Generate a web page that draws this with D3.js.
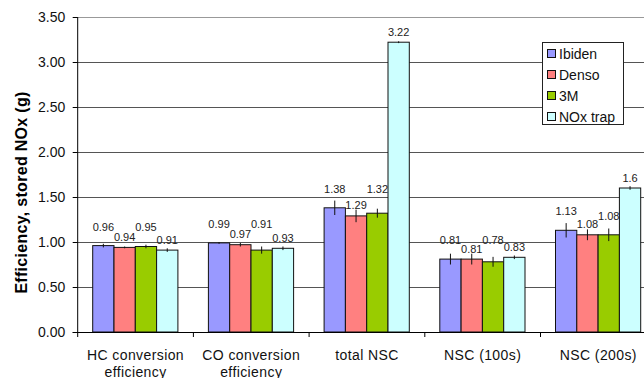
<!DOCTYPE html>
<html><head><meta charset="utf-8">
<script src="https://cdn.jsdelivr.net/npm/d3@7"></script>
<style>html,body{margin:0;padding:0;background:#fff;overflow:hidden}</style>
</head><body><svg id="c" width="644" height="378"></svg>
<script>
const categories = ["HC conversion\nefficiency", "CO conversion\nefficiency", "total NSC", "NSC (100s)", "NSC (200s)"];
const seriesNames = ["Ibiden", "Denso", "3M", "NOx trap"];
const ibiden = [0.96, 0.99, 1.38, 0.81, 1.13];
const denso  = [0.94, 0.97, 1.29, 0.81, 1.08];
const m3     = [0.95, 0.91, 1.32, 0.78, 1.08];
const noxTrap= [0.91, 0.93, 3.22, 0.83, 1.6];
const ibidenErr = [0.02, 0.01, 0.08, 0.06, 0.08];
const densoErr  = [0.01, 0.02, 0.07, 0.06, 0.06];
const m3Err     = [0.02, 0.04, 0.05, 0.055, 0.07];
const noxErr    = [0.02, 0.02, 0.01, 0.02, 0.02];
const valueLabels = [
  ["0.96","0.99","1.38","0.81","1.13"],
  ["0.94","0.97","1.29","0.81","1.08"],
  ["0.95","0.91","1.32","0.78","1.08"],
  ["0.91","0.93","3.22","0.83","1.6"]
];
const yTicks = [0, 0.5, 1, 1.5, 2, 2.5, 3, 3.5];
const colors = ["#9999FF", "#FF8080", "#99CC00", "#CCFFFF"];
const yTitle = "Efficiency, stored NOx (g)";

const values = [ibiden, denso, m3, noxTrap];
const errs = [ibidenErr, densoErr, m3Err, noxErr];

const svg = d3.select("#c");
const L = 77.7, T = 17, B = 332, R = 656.2;
const font = "'Liberation Sans', Arial, sans-serif";

const y = d3.scaleLinear().domain([0, 3.5]).range([B, T]);
const x0 = d3.scaleBand().domain(categories).range([L, R]).padding(0);
const x1 = d3.scaleBand().domain(seriesNames).range([15, x0.bandwidth() - 15.5]).padding(0);

// gridlines
svg.append("g").selectAll("line").data(yTicks.filter(d => d > 0)).join("line")
  .attr("x1", L).attr("x2", R)
  .attr("y1", d => Math.round(y(d)) + 0.5).attr("y2", d => Math.round(y(d)) + 0.5)
  .attr("stroke", d => d === 3.5 ? "#999" : "#555").attr("stroke-width", 1.2);

// bars
const groups = svg.append("g").selectAll("g").data(categories).join("g")
  .attr("transform", c => `translate(${x0(c)},0)`);

// label height: staggered — Ibiden/3M share a row above the taller of the two, Denso/NOx trap sit just above their bar
function labelY(si, ci) {
  if (si % 2 === 0) {
    let top = y(values[si][ci]);
    if (ci !== 4) top = Math.min(y(values[0][ci]), y(values[2][ci]));
    return top - 19 + 4;
  }
  return y(values[si][ci]) - 10.5 + 4;
}

seriesNames.forEach((s, si) => {
  groups.append("rect")
    .attr("x", (c, ci) => x1(s))
    .attr("width", x1.bandwidth())
    .attr("y", (c, ci) => y(values[si][ci]))
    .attr("height", (c, ci) => B - y(values[si][ci]))
    .attr("fill", colors[si]).attr("stroke", "#111").attr("stroke-width", 1);
  groups.append("line")
    .attr("x1", x1(s) + x1.bandwidth() / 2).attr("x2", x1(s) + x1.bandwidth() / 2)
    .attr("y1", (c, ci) => y(values[si][ci] + errs[si][ci]))
    .attr("y2", (c, ci) => y(values[si][ci] - errs[si][ci]))
    .attr("stroke", "#111").attr("stroke-width", 1);
  groups.append("text")
    .attr("x", x1(s) + x1.bandwidth() / 2)
    .attr("y", (c, ci) => labelY(si, ci))
    .attr("text-anchor", "middle")
    .attr("font-family", font).attr("font-size", 11).attr("fill", "#222")
    .text((c, ci) => valueLabels[si][ci]);
});

// y axis
const yAxis = svg.append("g").attr("transform", `translate(${L},0)`)
  .call(d3.axisLeft(y).tickValues(yTicks).tickFormat(d3.format(".2f")).tickSize(5).tickPadding(7.5));
yAxis.select(".domain").attr("stroke", "#000").attr("d", `M0,${T}V${B}`);
yAxis.selectAll(".tick line").attr("stroke", "#000");
yAxis.selectAll("text").attr("font-family", font).attr("font-size", 14).attr("fill", "#111");

// x axis
const xAxis = svg.append("g").attr("transform", `translate(0,${B})`);
xAxis.append("line").attr("x1", L - 5).attr("x2", R).attr("y1", 0.5).attr("y2", 0.5).attr("stroke", "#000");
xAxis.selectAll("line.tk").data(categories.concat(["end"])).join("line").attr("class", "tk")
  .attr("x1", (c, i) => i < categories.length ? x0(c) : R)
  .attr("x2", (c, i) => i < categories.length ? x0(c) : R)
  .attr("y1", 0).attr("y2", 5).attr("stroke", "#000");
const xl = xAxis.selectAll("text").data(categories).join("text")
  .attr("x", c => x0(c) + x0.bandwidth() / 2)
  .attr("y", 28)
  .attr("text-anchor", "middle")
  .attr("font-family", font).attr("font-size", 14).attr("fill", "#111")
  .attr("letter-spacing", 0.4);
xl.each(function(c) {
  const lines = c.split("\n");
  d3.select(this).selectAll("tspan").data(lines).join("tspan")
    .attr("x", x0(c) + x0.bandwidth() / 2)
    .attr("dy", (d, i) => i === 0 ? 0 : 17)
    .text(d => d);
});

// y title
svg.append("text")
  .attr("transform", `translate(27,192.5) rotate(-90)`)
  .attr("text-anchor", "middle")
  .attr("font-family", font).attr("font-size", 16).attr("font-weight", "bold").attr("fill", "#000")
  .attr("letter-spacing", 0.3)
  .text(yTitle);

// legend
const lg = svg.append("g");
lg.append("rect").attr("x", 542.5).attr("y", 42.5).attr("width", 81).attr("height", 82)
  .attr("fill", "#fff").attr("stroke", "#222").attr("stroke-width", 1);
seriesNames.forEach((s, i) => {
  const cy = 53.5 + i * 21;
  lg.append("rect").attr("x", 547.5).attr("y", cy - 4).attr("width", 8).attr("height", 8)
    .attr("fill", colors[i]).attr("stroke", "#111");
  lg.append("text").attr("x", 559).attr("y", cy + 5)
    .attr("font-family", font).attr("font-size", 14).attr("fill", "#111")
    .text(s);
});
</script>
</body></html>
